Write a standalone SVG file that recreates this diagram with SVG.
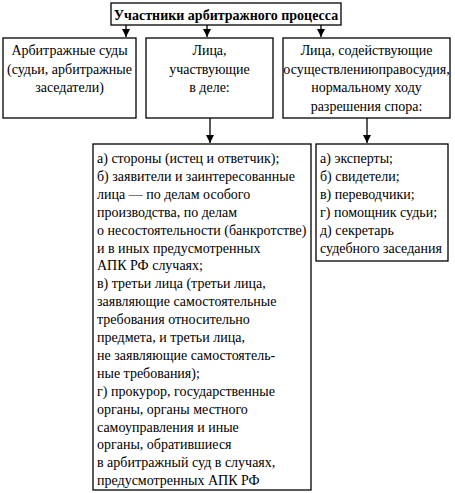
<svg xmlns="http://www.w3.org/2000/svg" width="455" height="493" viewBox="0 0 455 493">
<defs>
<marker id="arr" markerWidth="8" markerHeight="9" refX="8" refY="4" orient="auto" markerUnits="userSpaceOnUse">
<path d="M0,0 L8,4 L0,8 Z" fill="#000"/>
</marker>
</defs>
<style>
rect{fill:#fff;stroke:#000;stroke-width:1.3}
text{font-family:"Liberation Serif",Tinos,"Noto Serif","DejaVu Serif",serif;font-size:14px;font-weight:400;fill:#000}
.c{text-anchor:middle}
.b{font-weight:700}
line{stroke:#000;stroke-width:1.3}
</style>
<rect x="0" y="0" width="455" height="493" style="stroke:none"/>
<g id="connectors">
<line x1="126" y1="25" x2="126" y2="37" marker-end="url(#arr)"/>
<line x1="207" y1="25" x2="207" y2="37" marker-end="url(#arr)"/>
<line x1="321" y1="25" x2="321" y2="37" marker-end="url(#arr)"/>
<line x1="210" y1="118" x2="210" y2="143" marker-end="url(#arr)"/>
<line x1="367" y1="118" x2="367" y2="143" marker-end="url(#arr)"/>
</g>
<g id="title">
<rect x="111" y="3" width="230" height="22"/>
<text class="c b" x="226" y="20">Участники арбитражного процесса</text>
</g>
<g id="courts">
<rect x="3" y="38" width="133" height="80"/>
<text class="c" x="69.5" y="55">Арбитражные суды</text>
<text class="c" x="69.5" y="73.5">(судьи, арбитражные</text>
<text class="c" x="69.5" y="92">заседатели)</text>
</g>
<g id="parties">
<rect x="146" y="38" width="127" height="80"/>
<text class="c" x="209.5" y="55">Лица,</text>
<text class="c" x="209.5" y="73.5">участвующие</text>
<text class="c" x="209.5" y="92">в деле:</text>
</g>
<g id="assistants">
<rect x="283" y="38" width="167" height="80"/>
<text class="c" x="366.5" y="55">Лица, содействующие</text>
<text class="c" x="366.5" y="73.5">осуществлениюправосудия,</text>
<text class="c" x="366.5" y="92">нормальному ходу</text>
<text class="c" x="366.5" y="110.5">разрешения спора:</text>
</g>
<g id="parties-list">
<rect x="93" y="144" width="218" height="346"/>
<text x="97" y="163">а) стороны (истец и ответчик);</text>
<text x="97" y="180.9">б) заявители и заинтересованные</text>
<text x="97" y="198.8">лица — по делам особого</text>
<text x="97" y="216.7">производства, по делам</text>
<text x="97" y="234.6">о несостоятельности (банкротстве)</text>
<text x="97" y="252.5">и в иных предусмотренных</text>
<text x="97" y="270.4">АПК РФ случаях;</text>
<text x="97" y="288.3">в) третьи лица (третьи лица,</text>
<text x="97" y="306.2">заявляющие самостоятельные</text>
<text x="97" y="324.1">требования относительно</text>
<text x="97" y="342">предмета, и третьи лица,</text>
<text x="97" y="359.9">не заявляющие самостоятель-</text>
<text x="97" y="377.8">ные требования);</text>
<text x="97" y="395.7">г) прокурор, государственные</text>
<text x="97" y="413.6">органы, органы местного</text>
<text x="97" y="431.5">самоуправления и иные</text>
<text x="97" y="449.4">органы, обратившиеся</text>
<text x="97" y="467.3">в арбитражный суд в случаях,</text>
<text x="97" y="485.2">предусмотренных  АПК РФ</text>
</g>
<g id="assistants-list">
<rect x="316" y="144" width="132" height="117"/>
<text x="320" y="163">а) эксперты;</text>
<text x="320" y="180.9">б) свидетели;</text>
<text x="320" y="198.8">в) переводчики;</text>
<text x="320" y="216.7">г) помощник судьи;</text>
<text x="320" y="234.6">д) секретарь</text>
<text x="320" y="252.5">судебного заседания</text>
</g>
</svg>
